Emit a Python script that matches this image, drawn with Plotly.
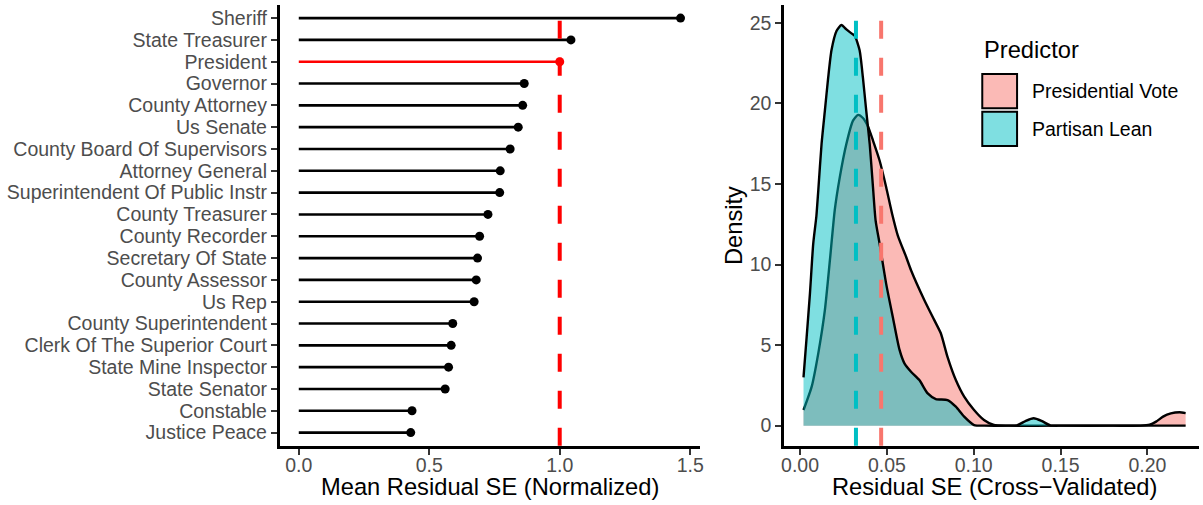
import plotly.graph_objects as go

# ---- Left panel: mean normalized residual SE by office ----
offices = [
    "Sheriff", "State Treasurer", "President", "Governor", "County Attorney",
    "Us Senate", "County Board Of Supervisors", "Attorney General",
    "Superintendent Of Public Instr", "County Treasurer", "County Recorder",
    "Secretary Of State", "County Assessor", "Us Rep", "County Superintendent",
    "Clerk Of The Superior Court", "State Mine Inspector", "State Senator",
    "Constable", "Justice Peace",
]
mean_resid_se = [
    1.463, 1.043, 1.000, 0.864, 0.858, 0.841, 0.810, 0.772, 0.770, 0.725,
    0.693, 0.685, 0.680, 0.672, 0.590, 0.584, 0.574, 0.561, 0.434, 0.429,
]
highlight_office = "President"
reference_line = 1.0
left_ticks = [0.0, 0.5, 1.0, 1.5]
left_ticklabels = ["0.0", "0.5", "1.0", "1.5"]

# ---- Right panel: density of cross-validated residual SE ----
pres_x = [0.0020, 0.0067, 0.0105, 0.0143, 0.0172, 0.0200, 0.0229, 0.0267, 0.0305,
          0.0334, 0.0362, 0.0390, 0.0420, 0.0458, 0.0496, 0.0530, 0.0563, 0.0610,
          0.0639, 0.0716, 0.0773, 0.0811, 0.0849, 0.0897, 0.0945, 0.1002, 0.1059,
          0.1116, 0.1200, 0.1500, 0.1800, 0.1960, 0.2013, 0.2050, 0.2090, 0.2135,
          0.2185, 0.2220]
pres_density = [0.97, 2.42, 4.49, 7.17, 10.27, 13.40, 15.43, 17.50, 18.94,
                19.29, 19.10, 18.60, 17.70, 16.46, 14.80, 13.16, 11.80, 10.50,
                9.65, 7.79, 6.55, 5.72, 4.27, 2.83, 1.80, 0.97, 0.35,
                0.04, 0.00, 0.00, 0.00, 0.00, 0.06, 0.25, 0.56, 0.76,
                0.83, 0.78]

lean_x = [0.0020, 0.0038, 0.0057, 0.0076, 0.0094, 0.0105, 0.0124, 0.0143, 0.0162,
          0.0181, 0.0210, 0.0238, 0.0267, 0.0296, 0.0315, 0.0343, 0.0362, 0.0381,
          0.0401, 0.0420, 0.0435, 0.0458, 0.0496, 0.0534, 0.0573, 0.0601, 0.0639,
          0.0687, 0.0735, 0.0782, 0.0849, 0.0897, 0.0945, 0.1002, 0.1060, 0.1200,
          0.1250, 0.1300, 0.1345, 0.1390, 0.1440, 0.1500, 0.1800, 0.2220]
lean_density = [3.00, 5.50, 8.20, 11.30, 13.00, 14.60, 17.50, 19.56, 21.60,
                23.30, 24.50, 24.87, 24.60, 24.35, 24.20, 23.30, 21.60, 19.56,
                17.50, 14.80, 12.75, 11.30, 8.80, 6.75, 4.70, 3.87, 3.35,
                2.83, 2.00, 1.65, 1.59, 1.18, 0.56, 0.04, 0.00, 0.00,
                0.02, 0.30, 0.46, 0.30, 0.02, 0.00, 0.00, 0.00]

pres_mean = 0.0467
lean_mean = 0.0322
right_xticks = [0.00, 0.05, 0.10, 0.15, 0.20]
right_xticklabels = ["0.00", "0.05", "0.10", "0.15", "0.20"]
right_yticks = [0, 5, 10, 15, 20, 25]

PRES_COLOR = "#F8766D"
LEAN_COLOR = "#00BFC4"
PRES_FILL = "rgba(248,118,109,0.5)"
LEAN_FILL = "rgba(0,191,196,0.5)"

FONT = "Liberation Sans, Arial, sans-serif"
W, H = 1203, 505
TEXT_SIZE = 19.5
TITLE_SIZE = 23.7

fig = go.Figure()

# Lollipop stems and heads
for name, val in zip(offices, mean_resid_se):
    col = "#FF0000" if name == highlight_office else "black"
    fig.add_trace(go.Scatter(
        x=[0, val], y=[name, name], mode="lines",
        line=dict(color=col, width=2.6), xaxis="x", yaxis="y",
        showlegend=False, hoverinfo="skip"))
fig.add_trace(go.Scatter(
    x=mean_resid_se, y=offices, mode="markers",
    marker=dict(size=9, line=dict(width=0),
                color=["#FF0000" if o == highlight_office else "black" for o in offices]),
    xaxis="x", yaxis="y", showlegend=False))

# Density areas (fill first, outline on top), presidential then partisan lean
for xs, ys, fillc in [(pres_x, pres_density, PRES_FILL), (lean_x, lean_density, LEAN_FILL)]:
    fig.add_trace(go.Scatter(
        x=xs, y=ys, mode="lines", fill="tozeroy", fillcolor=fillc,
        line=dict(width=0, shape="spline", smoothing=0.6),
        xaxis="x2", yaxis="y2", showlegend=False, hoverinfo="skip"))
    fig.add_trace(go.Scatter(
        x=xs, y=ys, mode="lines",
        line=dict(color="black", width=2.4, shape="spline", smoothing=0.6),
        xaxis="x2", yaxis="y2", showlegend=False))

# Layout geometry (pixels -> paper)
L_X0, L_X1 = 278.3 / W, 700.7 / W
R_X0, R_X1 = 785.7 / W, 1.0
Y0, Y1 = (H - 445.7) / H, (H - 5) / H

left_max = max(mean_resid_se)
left_range = [-0.05 * left_max, left_max * 1.05]
dens_max = max(max(pres_density), max(lean_density))
right_yrange = [-0.05 * dens_max, dens_max * 1.05]

axis_common = dict(
    showline=True, linecolor="black", linewidth=2.6,
    ticks="outside", ticklen=6, tickwidth=2.4, tickcolor="#333333",
    showgrid=False, zeroline=False,
    tickfont=dict(family=FONT, size=TEXT_SIZE, color="#4D4D4D"),
)

fig.update_layout(
    width=W, height=H,
    margin=dict(l=0, r=0, t=0, b=0),
    paper_bgcolor="white", plot_bgcolor="white",
    font=dict(family=FONT),
    xaxis=dict(domain=[L_X0, L_X1], range=left_range, tickmode="array",
               tickvals=left_ticks, ticktext=left_ticklabels, anchor="y",
               ticklabelstandoff=-6, **axis_common),
    yaxis=dict(domain=[Y0, Y1], type="category", categoryorder="array",
               categoryarray=offices[::-1], range=[-0.6, len(offices) - 0.4],
               tickmode="array", tickvals=offices, ticktext=offices,
               anchor="x", **axis_common),
    xaxis2=dict(domain=[R_X0, R_X1], range=[-0.00916, 0.2297], tickmode="array",
                tickvals=right_xticks, ticktext=right_xticklabels, anchor="y2",
                ticklabelstandoff=-6, **axis_common),
    yaxis2=dict(domain=[Y0, Y1], range=right_yrange, tickmode="array",
                tickvals=right_yticks, anchor="x2", **axis_common),
)

# Dashed reference lines (drawn bottom-up so the dash pattern starts at the axis)
dash = "18px,19px"
fig.add_shape(type="line", xref="x", yref="paper", x0=reference_line, x1=reference_line,
              y0=Y0, y1=Y1, line=dict(color="#FF0000", width=4, dash=dash))
fig.add_shape(type="line", xref="x2", yref="paper", x0=lean_mean, x1=lean_mean,
              y0=Y0, y1=Y1, line=dict(color=LEAN_COLOR, width=4, dash=dash))
fig.add_shape(type="line", xref="x2", yref="paper", x0=pres_mean, x1=pres_mean,
              y0=Y0, y1=Y1, line=dict(color=PRES_COLOR, width=4, dash=dash))

# Axis titles
fig.add_annotation(text="Mean Residual SE (Normalized)", xref="paper", yref="paper",
                   x=(L_X0 + L_X1) / 2, y=1 - 486.7 / H, xanchor="center", yanchor="middle",
                   showarrow=False, font=dict(family=FONT, size=TITLE_SIZE, color="black"))
fig.add_annotation(text="Residual SE (Cross\u2212Validated)", xref="paper", yref="paper",
                   x=997.0 / W, y=1 - 486.7 / H, xanchor="center", yanchor="middle",
                   showarrow=False, font=dict(family=FONT, size=TITLE_SIZE, color="black"))
fig.add_annotation(text="Density", xref="paper", yref="paper", textangle=-90,
                   x=736.0 / W, y=(Y0 + Y1) / 2, xanchor="center", yanchor="middle",
                   showarrow=False, font=dict(family=FONT, size=TITLE_SIZE, color="black"))

# Legend
fig.add_annotation(text="Predictor", xref="paper", yref="paper",
                   x=985 / W, y=1 - 50 / H, xanchor="left", yanchor="middle",
                   showarrow=False, font=dict(family=FONT, size=TITLE_SIZE, color="black"))
legend_items = [("Presidential Vote", PRES_FILL, 74, 108.3), ("Partisan Lean", LEAN_FILL, 111.7, 146)]
for label, fillc, top, bot in legend_items:
    fig.add_shape(type="rect", xref="paper", yref="paper",
                  x0=985 / W, x1=1020 / W, y0=1 - bot / H, y1=1 - top / H,
                  fillcolor=fillc, line=dict(color="black", width=2))
    fig.add_annotation(text=label, xref="paper", yref="paper",
                       x=1033.3 / W, y=1 - (top + bot) / 2 / H, xanchor="left", yanchor="middle",
                       showarrow=False, font=dict(family=FONT, size=TEXT_SIZE, color="black"))

fig.write_html("out.html")
